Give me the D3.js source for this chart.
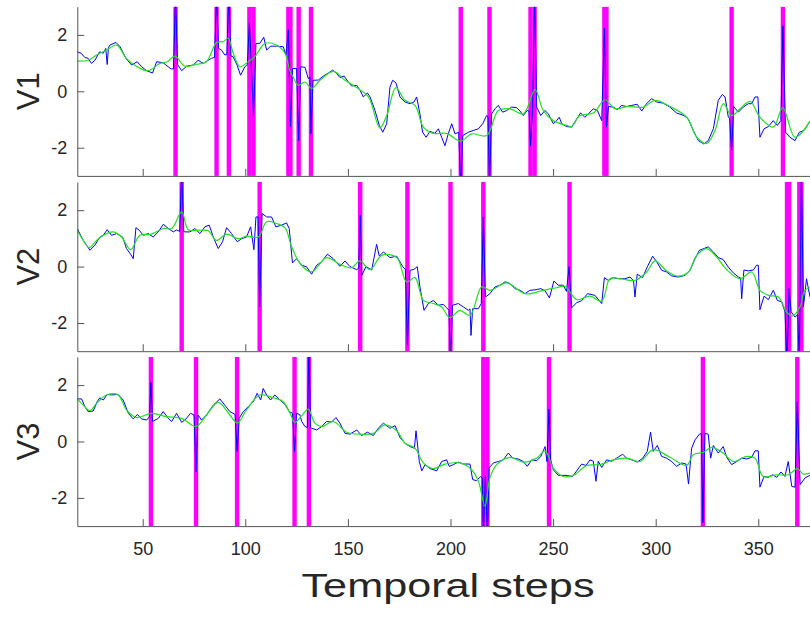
<!DOCTYPE html>
<html><head><meta charset="utf-8">
<script src="https://cdn.jsdelivr.net/npm/d3@7"></script>
<style>
body{margin:0;background:#fff}
svg{display:block}
text{font-family:"Liberation Sans",Arial,Helvetica,sans-serif;fill:#262626}
</style>
</head><body>
<svg id="chart" width="810" height="617"></svg>
<script>
// ---------- DATA ----------
const panelNames = ["V1", "V2", "V3"];
const xTicks = [50, 100, 150, 200, 250, 300, 350];
const yTicks = [-2, 0, 2];
const yTickLabels = ["-2", "0", "2"];
const xLabel = "Temporal steps";

// [temporal step, value]
const v1Blue = [[18,1.40],[20,1.35],[21.8,1.2],[23.4,1.17],[25,0.99],[26.7,1.1],[29,1.40],[30.8,1.35],[32,1.52],[32.7,0.95],[33.3,1.55],[34,1.64],[37,1.73],[39,1.58],[41.8,1.17],[44.6,0.93],[47.3,1.05],[49.5,0.87],[51.9,0.73],[54.8,0.65],[56.8,1.05],[60,1.01],[62.4,0.87],[64,0.79],[65,0.8],[66,3.4],[67,0.95],[69,0.73],[71.4,0.89],[74.6,0.93],[77,1.1],[79.5,0.99],[81.9,1.1],[83.5,1.17],[85,1.2],[86,3.4],[87,1.52],[88.4,1.46],[90,1.29],[91,1.3],[92,3.4],[93,1.25],[94,1.23],[96,0.93],[97.7,0.57],[99.8,0.87],[101,0.95],[102,2.44],[104,-0.86],[105.2,1.70],[107.1,1.70],[109,1.92],[110.4,1.46],[112.3,1.6],[115.2,1.6],[118.5,1.58],[119.8,1.29],[121,2.18],[122,-1.25],[123,0.81],[125,0.81],[126,-1.75],[127,0.87],[129.1,0.85],[130.7,0.45],[131.5,0.5],[132,-1.51],[133,0.39],[135.6,0.40],[138,0.54],[140.5,0.65],[142.6,0.75],[144.5,0.63],[146.1,0.49],[148.1,0.54],[150.2,0.33],[151.8,0.19],[154.3,0.21],[155.9,0.04],[157.5,-0.2],[159.5,-0.06],[160.8,-0.2],[163.2,-0.68],[165.3,-1.21],[167,-1.45],[168.9,-1.15],[170.5,0.15],[171.8,0.39],[173.4,0.3],[175.4,-0.2],[177.8,-0.38],[180.3,-0.44],[182.2,-0.38],[183.5,-0.2],[185.1,-0.8],[186.4,-1.45],[188.1,-1.63],[190,-1.42],[192.4,-1.49],[194.1,-1.33],[195.7,-1.63],[197.3,-1.93],[198.9,-1.51],[200.6,-1.15],[202.2,-1.51],[204,-1.45],[205,-3.4],[206,-1.57],[208.7,-1.45],[211.1,-1.39],[213.6,-1.33],[215.7,-1.15],[217.6,-0.86],[218.3,-0.9],[219,-3.4],[220,-0.8],[221.7,-0.62],[223.3,-0.5],[225.4,-0.74],[227.4,-0.68],[229.8,-0.56],[232.2,-0.58],[233.9,-0.7],[235.5,-0.86],[237.4,-0.68],[238.3,-0.7],[239,-1.93],[240,-0.6],[241,3.4],[242,-0.56],[244,-0.86],[246,-0.68],[247.7,-0.8],[250.1,-1.15],[251.7,-1.04],[253,-0.92],[254.2,-1.15],[256.6,-1.25],[259,-1.27],[261.5,-0.98],[263.4,-0.77],[265.5,-0.92],[267.2,-0.8],[269.6,-0.62],[271.6,-0.68],[273.7,-1.04],[275,2.24],[276,-1.27],[277,-0.54],[279.4,-0.56],[281.3,-0.65],[283.4,-0.5],[285.8,-0.54],[288.3,-0.5],[291,-0.46],[293.2,-0.7],[295.3,-0.46],[298,-0.26],[300.5,-0.38],[303.7,-0.42],[306.9,-0.56],[310.2,-0.77],[313.8,-0.86],[315.9,-0.98],[318.3,-1.39],[320.8,-1.75],[323.5,-1.87],[325.6,-1.75],[328.1,-1.33],[330.5,-0.32],[332.5,-0.11],[333.8,-0.2],[335.4,-0.92],[336,-0.95],[337,-2.1],[338,-0.54],[340.3,-0.74],[342.7,-0.56],[345.1,-0.44],[346.8,-0.44],[348.4,-0.2],[349.8,-0.2],[350.8,-1.63],[352.8,-1.33],[354.9,-1.25],[357.3,-1.04],[359.3,-1.21],[361,-1.04],[362,2.32],[363.3,-1.45],[365.4,-1.63],[367.9,-1.75],[370,-1.45],[372.3,-1.39],[375.2,-1.06]];
const v1Green = [[18.1,1.07],[23.4,1.1],[27.5,1.29],[32.4,1.46],[37.3,1.64],[42,1.17],[46.9,0.89],[52.7,0.73],[58.4,0.99],[62,1.05],[65.7,1.25],[70.6,0.89],[76.3,0.96],[81,1.05],[86,1.73],[89.2,1.76],[91.7,1.88],[94.1,1.35],[97.4,0.87],[101.4,1.05],[104.7,1.23],[109.6,1.70],[115.2,1.64],[119.3,1.35],[121.8,0.71],[123.4,0.5],[125.8,0.21],[129.1,0.33],[132.3,0.1],[136.4,0.39],[142.9,0.71],[148.6,0.39],[154.3,0.13],[160,-0.2],[165.6,-1.3],[168.9,-0.86],[173.4,0.13],[177.8,-0.32],[182.7,-0.5],[186.8,-1.27],[191.6,-1.49],[198.1,-1.49],[204.9,-1.77],[210.3,-1.51],[217.6,-1.57],[223.3,-0.68],[229,-0.62],[235.5,-0.8],[241.2,0.06],[245.2,-0.68],[250.1,-1.04],[256.6,-1.21],[259,-1.25],[263.1,-0.86],[269.6,-0.77],[275.3,-0.3],[280.2,-0.62],[285.8,-0.54],[294,-0.56],[299.7,-0.32],[307,-0.54],[315.1,-0.92],[320,-1.63],[324.8,-1.85],[328.9,-1.39],[333,-0.44],[337,-0.86],[341.1,-0.62],[346,-0.36],[350.8,-0.92],[357.3,-1.27],[361.9,-0.58],[367.9,-1.63],[375.2,-1.06]];

const v2Blue = [[18.1,1.35],[21,0.93],[24.3,0.58],[26.7,0.76],[29.1,1.05],[30.8,1.11],[32.7,1.31],[34.8,1.11],[37.3,1.17],[40.2,1.05],[42.1,0.64],[44.1,0.44],[45.4,0.28],[46.7,1.38],[48.3,1.29],[50.3,1.11],[52.7,1.17],[55.1,1.05],[57.6,1.23],[60,1.50],[62.5,1.35],[64.9,1.23],[66.5,1.3],[68,1.25],[69,3.4],[70,1.25],[70.6,1.23],[73,1.23],[75.4,1.35],[77.9,1.17],[80.3,1.41],[82.4,1.47],[84.4,1.05],[86.8,0.64],[88.9,0.88],[90.9,1.38],[93.3,1.17],[96.1,0.88],[98.2,0.99],[100.6,1.05],[102.6,1.41],[104.2,0.6],[105.2,1.76],[106.2,1.76],[107,-1.43],[108.2,1.88],[110.4,1.76],[112.8,1.76],[114.9,1.41],[117.7,1.47],[120.1,1.55],[121.4,1.35],[123,0.13],[125,0.28],[127.5,0.05],[129.9,-0.01],[132.3,-0.27],[134.8,0.05],[137.2,0.17],[140,0.44],[142.9,0.28],[146.1,0.01],[148.6,0.2],[151,0.0],[154.3,-0.11],[155.3,-0.05],[156,1.82],[156.8,-0.31],[158.8,0.0],[161.6,-0.12],[164,0.79],[165.3,0.37],[167.3,0.52],[170.5,0.32],[173.8,0.37],[176.7,0.0],[178,-0.1],[179,-2.79],[180.3,-0.13],[182.2,-0.1],[183.8,0.0],[185.1,-0.72],[187.1,-1.55],[189.2,-1.31],[191.6,-1.2],[194.1,-1.37],[196.5,-1.34],[198.1,-1.46],[199.3,-1.55],[200,-3.4],[201,-1.37],[203.8,-1.31],[206.3,-1.43],[208.7,-1.55],[209.5,-1.5],[210,-2.44],[210.8,-1.49],[213.6,-1.49],[215,-1.31],[216,1.76],[217,-1.08],[219.2,-0.96],[221.7,-0.72],[224.1,-0.66],[226.6,-0.54],[229,-0.6],[231.4,-0.78],[233.9,-0.84],[236.3,-0.96],[238.7,-0.84],[241.7,-0.82],[244,-0.78],[246.1,-0.86],[248.2,-1.11],[250.4,-0.51],[252.5,-0.66],[255,-0.66],[256.5,-0.88],[257.8,0.0],[259,-1.46],[261.5,-1.28],[263.9,-1.21],[266.8,-0.96],[270.4,-1.02],[273.7,-1.31],[275,-0.39],[276.9,-0.49],[279.4,-0.39],[281.8,-0.43],[285,-0.43],[287.5,-0.37],[289.2,-0.5],[289.9,-1.08],[291,-0.27],[293.6,-0.39],[295.9,-0.01],[298.5,0.37],[300.5,0.17],[302.9,-0.13],[305.3,-0.19],[307.8,-0.33],[311,-0.37],[314.3,-0.31],[316.7,-0.13],[319.2,0.28],[321.3,0.58],[323.5,0.64],[325.6,0.70],[328.1,0.52],[330.5,0.32],[332.9,0.25],[335.4,-0.02],[337.8,-0.22],[340.3,-0.37],[341.4,-0.4],[341.9,-1.14],[343,-0.12],[345.1,-0.15],[347.6,-0.12],[349.2,0.05],[350,0.05],[350.8,-1.53],[352.8,-1.05],[354.9,-1.17],[357.3,-0.84],[359.3,-1.2],[361.4,-1.25],[363,-1.6],[364,-3.4],[365,-0.78],[366,-1.6],[367.9,-1.79],[369.2,-1.7],[370,-3.4],[371,3.4],[372,-1.43],[373.5,-0.43],[375.2,-1.08]];
const v2Green = [[18.1,1.29],[21,0.93],[23.9,0.67],[27.5,0.93],[30.8,1.11],[35.6,1.23],[39.7,1.05],[44.1,0.6],[48.6,1.11],[54.3,1.15],[60,1.35],[64.1,1.35],[69,1.94],[72.2,1.31],[77.9,1.29],[81.9,1.27],[86,0.93],[90.9,1.15],[96.6,0.99],[100.6,1.08],[106.3,1.05],[110.4,1.59],[115.2,1.53],[119.3,1.38],[122.6,0.7],[126.7,0.11],[132.3,-0.19],[139.6,0.32],[146.1,0.08],[151.8,-0.04],[155.9,0.2],[160.8,-0.11],[166.5,0.4],[173.8,0.32],[178.6,-0.54],[182.7,-0.39],[186.8,-1.2],[191.6,-1.31],[195.7,-1.43],[199.7,-1.81],[204.6,-1.55],[209.5,-1.73],[215.2,-0.72],[219.2,-0.84],[227.4,-0.58],[236.3,-0.96],[245.2,-0.84],[251.7,-0.75],[255.8,-0.7],[261.5,-1.17],[268,-1.05],[273.7,-1.22],[277.7,-0.43],[282.6,-0.43],[289.9,-0.49],[295.6,-0.19],[299.7,0.2],[305.3,-0.15],[311,-0.34],[315.9,-0.19],[320,0.4],[324.8,0.64],[329.7,0.34],[334.6,-0.11],[341.1,-0.43],[346.8,-0.19],[350.8,-0.84],[354.9,-1.02],[359.8,-1.08],[363.8,-1.61],[366.7,-1.75],[370.3,-1.43],[372.7,-0.84],[375.2,-0.75]];

const v3Blue = [[18.1,1.51],[20.2,1.51],[21.8,1.24],[23.4,1.06],[25.9,1.08],[27.8,1.41],[29.1,1.55],[30.8,1.47],[32.7,1.67],[34.8,1.65],[38,1.67],[40.5,1.47],[43,1.0],[45.4,0.8],[47.4,0.96],[49.5,0.8],[51.9,0.76],[53.3,0.88],[54,2.09],[54.8,0.71],[57.6,0.82],[60,1.06],[62.5,0.82],[64.1,0.71],[66.5,1.0],[69,0.68],[71.1,0.8],[73.3,1.0],[75,0.94],[76,-1.08],[77,0.94],[78.7,0.76],[81.1,0.94],[84.4,1.29],[87.6,1.51],[90,1.29],[92.5,1.06],[95,0.96],[96,-0.35],[97,0.82],[99,1.06],[101.5,1.24],[103.9,1.41],[105.8,1.71],[107.5,1.47],[108.7,1.88],[110.4,1.65],[112.3,1.47],[114.4,1.65],[116.9,1.47],[119.3,1.32],[121.4,1.06],[123,1.0],[124,-0.35],[125,1.0],[126.6,0.95],[127.5,0.71],[129.1,0.53],[130.3,0.5],[131,3.4],[131.8,0.5],[132.3,0.47],[134.8,0.41],[137.2,0.53],[139.6,0.71],[142.1,0.69],[144.2,0.85],[146.1,0.65],[148.6,0.29],[151,0.26],[154.3,0.41],[156.7,0.21],[159.5,0.33],[162.4,0.21],[164.8,0.47],[167.3,0.65],[170.5,0.47],[173,0.56],[175.4,0.14],[177.8,-0.06],[180.3,-0.18],[182.4,-0.24],[183.2,0.38],[184.8,-0.71],[186,-1.04],[187.6,-0.82],[190,-0.96],[193.3,-1.04],[195.7,-0.71],[198.1,-0.65],[199.4,-0.88],[201.4,-0.82],[203.8,-0.73],[206.3,-0.8],[209.5,-0.8],[210.8,-1.35],[212.7,-1.39],[214.7,-1.24],[215.5,-1.3],[216,-3.4],[217,-1.2],[218,-3.4],[218.8,-0.94],[220.9,-0.76],[223.3,-0.71],[225.7,-0.65],[228.2,-0.41],[230.3,-0.59],[233,-0.62],[235.5,-0.71],[237.4,-0.88],[239.6,-0.65],[242,-0.68],[244,-0.53],[246.1,-0.18],[247,-0.71],[248,1.15],[248.8,-0.65],[250.1,-1.0],[252.5,-1.2],[255.8,-1.2],[259.5,-1.24],[261.5,-1.04],[263.9,-0.8],[266,-0.85],[268,-0.65],[269.6,-0.7],[270.9,-1.41],[272,-0.7],[273.7,-0.92],[276.1,-0.65],[278.5,-0.7],[281,-0.59],[283.9,-0.45],[285.8,-0.59],[288.3,-0.65],[291,-0.73],[293.7,-0.59],[295.9,-0.35],[297.5,0.33],[298.8,-0.35],[300.8,-0.14],[302.9,-0.53],[305.3,-0.59],[307.8,-0.71],[310.2,-0.88],[312.7,-0.76],[314.8,-0.8],[316,-1.51],[317.5,-0.24],[319.2,0.06],[321.3,0.26],[322.3,0.28],[323,-2.88],[324,0.29],[325.6,0.26],[326.8,-0.59],[328.1,-0.14],[330.5,-0.41],[332.9,-0.18],[334.6,-0.56],[337,-0.82],[339.5,-0.71],[341.9,-0.59],[344.3,-0.62],[346.8,-0.56],[348.4,-0.33],[350,-0.33],[350.8,-1.62],[352.8,-1.24],[354.9,-1.27],[357,-1.18],[359,-1.27],[361.1,-1.08],[363,-1.24],[364.6,-0.71],[366.3,-1.59],[367.9,-1.62],[369,1.41],[370.4,-1.53],[372.8,-1.29],[375.2,-1.2]];
const v3Green = [[18.1,1.51],[21,1.29],[24.3,1.09],[27.5,1.35],[32.4,1.65],[38,1.65],[42.1,1.12],[47,0.85],[54.3,1.0],[61.5,0.88],[69,0.82],[75.9,0.53],[81.1,0.94],[86.8,1.39],[92.5,0.94],[96.1,0.65],[100.6,1.12],[107.1,1.65],[113.6,1.55],[118.5,1.41],[121.8,1.0],[124.2,0.68],[127.5,0.92],[130.7,1.15],[133.9,0.65],[137.2,0.53],[142.9,0.71],[149.4,0.33],[155.9,0.26],[162.4,0.29],[168.1,0.59],[173.8,0.38],[177.8,-0.06],[182.7,-0.24],[186.8,-0.76],[191.6,-0.96],[197.3,-0.8],[204.6,-0.76],[210.3,-1.0],[213.6,-1.41],[216.8,-2.29],[219.2,-1.29],[222.5,-0.82],[229,-0.56],[235.5,-0.73],[242,-0.59],[246.1,-0.33],[250.1,-0.94],[255,-1.24],[259.9,-1.2],[266.4,-0.85],[272.9,-0.82],[279.4,-0.65],[285.8,-0.59],[292.3,-0.71],[298.8,-0.29],[307,-0.56],[315.1,-0.85],[318.3,-0.47],[323.2,-0.38],[327.3,-0.21],[332.9,-0.41],[337.8,-0.71],[344.3,-0.53],[348.4,-0.59],[352.4,-1.24],[359,-1.18],[364.6,-1.18],[369,-0.96],[371.9,-1.15],[375.2,-1.12]];

// anomaly time steps (magenta bands)
const v1Anomalies = [66, 86, 92, 102, 104, 121, 122, 126, 132, 205, 219, 239, 241, 275, 276, 337, 362];
const v2Anomalies = [69, 107, 156, 179, 200, 216, 258, 364, 365, 370, 371];
const v3Anomalies = [54, 76, 96, 124, 131, 216, 218, 248, 323, 369];

// ---------- DRAWING ----------
const panels = [
  {name: panelNames[0], blue: v1Blue, green: v1Green, anom: v1Anomalies},
  {name: panelNames[1], blue: v2Blue, green: v2Green, anom: v2Anomalies},
  {name: panelNames[2], blue: v3Blue, green: v3Green, anom: v3Anomalies}
];

const svg = d3.select("#chart");
const left = 77.3, right = 810;
const tops = [6.7, 182, 356.9];
const ph = 169.2;
const x = d3.scaleLinear().domain([18.13, 375.2]).range([left, right]);
const barHalf = 1.07;

panels.forEach((p, i) => {
  const top = tops[i], bottom = top + ph;
  const y = d3.scaleLinear().domain([-3, 3]).range([bottom, top]);
  const g = svg.append("g");
  const clipId = "clip" + i;
  g.append("clipPath").attr("id", clipId).append("rect")
    .attr("x", left).attr("y", top).attr("width", right - left).attr("height", ph);
  const plot = g.append("g").attr("clip-path", `url(#${clipId})`);

  plot.selectAll("rect.anom").data(p.anom).join("rect")
    .attr("class", "anom")
    .attr("x", d => x(d - barHalf))
    .attr("width", d => x(d + barHalf) - x(d - barHalf))
    .attr("y", top).attr("height", ph)
    .attr("fill", "#ff00ff");

  const lineBlue = d3.line().x(d => x(d[0])).y(d => y(d[1]));
  const lineGreen = d3.line().x(d => x(d[0])).y(d => y(d[1])).curve(d3.curveCatmullRom.alpha(0.5));

  plot.append("path").datum(p.blue).attr("d", lineBlue)
    .attr("fill", "none").attr("stroke", "#0000ff").attr("stroke-width", 1).attr("stroke-linejoin", "round");
  plot.append("path").datum(p.green).attr("d", lineGreen)
    .attr("fill", "none").attr("stroke", "#22e022").attr("stroke-width", 1.2);

  // axes
  const ax = d3.axisBottom(x).tickValues(xTicks).tickSizeInner(-7).tickSizeOuter(0).tickPadding(16.5);
  if (i < 2) ax.tickFormat("");
  const gx = g.append("g").attr("transform", `translate(0,${bottom})`).call(ax);
  const ay = d3.axisLeft(y).tickValues(yTicks).tickSizeInner(-7).tickSizeOuter(0).tickPadding(10)
    .tickFormat((d, k) => yTickLabels[k]);
  const gy = g.append("g").attr("transform", `translate(${left},0)`).call(ay);
  [gx, gy].forEach(a => {
    a.select(".domain").attr("stroke", "#555");
    a.selectAll(".tick line").attr("stroke", "#555");
    a.selectAll(".tick text").attr("font-size", 18).attr("font-family", '"Liberation Sans",Arial,sans-serif').attr("fill", "#262626");
  });

  svg.append("text")
    .attr("transform", `translate(39,${y(0)}) rotate(-90)`)
    .attr("text-anchor", "middle")
    .attr("font-size", 31)
    .text(p.name);
});

svg.append("text")
  .attr("x", 448).attr("y", 597)
  .attr("text-anchor", "middle")
  .attr("font-size", 34)
  .attr("textLength", 293).attr("lengthAdjust", "spacingAndGlyphs")
  .text(xLabel);
</script>
</body></html>
